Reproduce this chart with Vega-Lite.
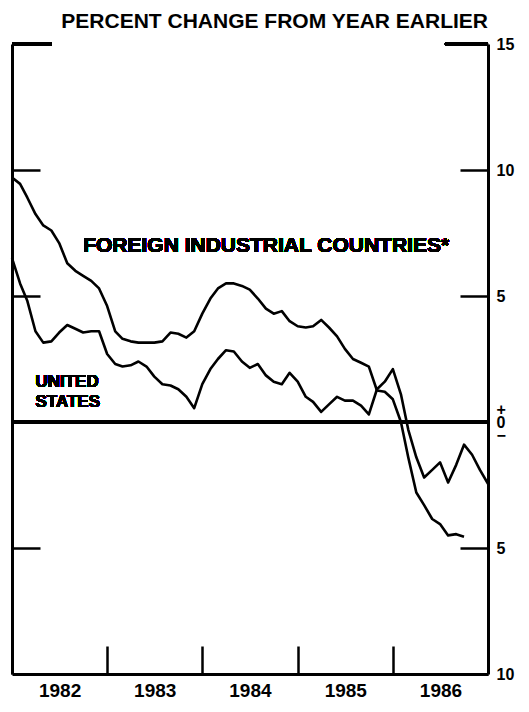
{
  "$schema": "https://vega.github.io/schema/vega-lite/v6.json",
  "width": 476,
  "height": 630,
  "autosize": {"type": "none"},
  "padding": {"left": 12, "top": 44, "right": 41, "bottom": 38},
  "background": "white",
  "config": {"view": {"stroke": null}, "font": "Liberation Sans"},
  "title": {"text": "PERCENT CHANGE FROM YEAR EARLIER", "anchor": "end", "frame": "group", "fontSize": 21, "fontWeight": 900, "font": "Liberation Sans", "color": "#000", "offset": 4},
  "data": {"values": [
    {"date": "1982-01-01", "series": "US", "value": 6.5},
    {"date": "1982-02-01", "series": "US", "value": 5.5},
    {"date": "1982-03-01", "series": "US", "value": 4.8},
    {"date": "1982-04-01", "series": "US", "value": 3.6},
    {"date": "1982-05-01", "series": "US", "value": 3.15},
    {"date": "1982-06-01", "series": "US", "value": 3.2},
    {"date": "1982-07-01", "series": "US", "value": 3.55},
    {"date": "1982-08-01", "series": "US", "value": 3.85},
    {"date": "1982-09-01", "series": "US", "value": 3.7},
    {"date": "1982-10-01", "series": "US", "value": 3.55},
    {"date": "1982-11-01", "series": "US", "value": 3.6},
    {"date": "1982-12-01", "series": "US", "value": 3.6},
    {"date": "1983-01-01", "series": "US", "value": 2.7},
    {"date": "1983-02-01", "series": "US", "value": 2.3},
    {"date": "1983-03-01", "series": "US", "value": 2.2},
    {"date": "1983-04-01", "series": "US", "value": 2.25},
    {"date": "1983-05-01", "series": "US", "value": 2.4},
    {"date": "1983-06-01", "series": "US", "value": 2.2},
    {"date": "1983-07-01", "series": "US", "value": 1.8},
    {"date": "1983-08-01", "series": "US", "value": 1.5},
    {"date": "1983-09-01", "series": "US", "value": 1.45},
    {"date": "1983-10-01", "series": "US", "value": 1.3},
    {"date": "1983-11-01", "series": "US", "value": 1.0},
    {"date": "1983-12-01", "series": "US", "value": 0.55},
    {"date": "1984-01-01", "series": "US", "value": 1.5},
    {"date": "1984-02-01", "series": "US", "value": 2.1},
    {"date": "1984-03-01", "series": "US", "value": 2.5},
    {"date": "1984-04-01", "series": "US", "value": 2.85},
    {"date": "1984-05-01", "series": "US", "value": 2.8},
    {"date": "1984-06-01", "series": "US", "value": 2.4},
    {"date": "1984-07-01", "series": "US", "value": 2.15},
    {"date": "1984-08-01", "series": "US", "value": 2.3},
    {"date": "1984-09-01", "series": "US", "value": 1.85},
    {"date": "1984-10-01", "series": "US", "value": 1.6},
    {"date": "1984-11-01", "series": "US", "value": 1.5},
    {"date": "1984-12-01", "series": "US", "value": 1.95},
    {"date": "1985-01-01", "series": "US", "value": 1.6},
    {"date": "1985-02-01", "series": "US", "value": 1.0},
    {"date": "1985-03-01", "series": "US", "value": 0.8},
    {"date": "1985-04-01", "series": "US", "value": 0.4},
    {"date": "1985-05-01", "series": "US", "value": 0.7},
    {"date": "1985-06-01", "series": "US", "value": 1.0},
    {"date": "1985-07-01", "series": "US", "value": 0.85},
    {"date": "1985-08-01", "series": "US", "value": 0.85},
    {"date": "1985-09-01", "series": "US", "value": 0.65},
    {"date": "1985-10-01", "series": "US", "value": 0.3},
    {"date": "1985-11-01", "series": "US", "value": 1.3},
    {"date": "1985-12-01", "series": "US", "value": 1.6},
    {"date": "1986-01-01", "series": "US", "value": 2.1},
    {"date": "1986-02-01", "series": "US", "value": 1.1},
    {"date": "1986-03-01", "series": "US", "value": -0.3},
    {"date": "1986-04-01", "series": "US", "value": -1.4},
    {"date": "1986-05-01", "series": "US", "value": -2.2},
    {"date": "1986-06-01", "series": "US", "value": -1.9},
    {"date": "1986-07-01", "series": "US", "value": -1.6},
    {"date": "1986-08-01", "series": "US", "value": -2.4},
    {"date": "1986-09-01", "series": "US", "value": -1.7},
    {"date": "1986-10-01", "series": "US", "value": -0.9},
    {"date": "1986-11-01", "series": "US", "value": -1.3},
    {"date": "1986-12-01", "series": "US", "value": -1.9},
    {"date": "1987-01-01", "series": "US", "value": -2.45},
    {"date": "1982-01-01", "series": "Foreign", "value": 9.7},
    {"date": "1982-02-01", "series": "Foreign", "value": 9.45},
    {"date": "1982-03-01", "series": "Foreign", "value": 8.9},
    {"date": "1982-04-01", "series": "Foreign", "value": 8.25},
    {"date": "1982-05-01", "series": "Foreign", "value": 7.8},
    {"date": "1982-06-01", "series": "Foreign", "value": 7.6},
    {"date": "1982-07-01", "series": "Foreign", "value": 7.1},
    {"date": "1982-08-01", "series": "Foreign", "value": 6.3},
    {"date": "1982-09-01", "series": "Foreign", "value": 6.0},
    {"date": "1982-10-01", "series": "Foreign", "value": 5.8},
    {"date": "1982-11-01", "series": "Foreign", "value": 5.6},
    {"date": "1982-12-01", "series": "Foreign", "value": 5.3},
    {"date": "1983-01-01", "series": "Foreign", "value": 4.6},
    {"date": "1983-02-01", "series": "Foreign", "value": 3.6},
    {"date": "1983-03-01", "series": "Foreign", "value": 3.3},
    {"date": "1983-04-01", "series": "Foreign", "value": 3.2},
    {"date": "1983-05-01", "series": "Foreign", "value": 3.15},
    {"date": "1983-06-01", "series": "Foreign", "value": 3.15},
    {"date": "1983-07-01", "series": "Foreign", "value": 3.15},
    {"date": "1983-08-01", "series": "Foreign", "value": 3.2},
    {"date": "1983-09-01", "series": "Foreign", "value": 3.55},
    {"date": "1983-10-01", "series": "Foreign", "value": 3.5},
    {"date": "1983-11-01", "series": "Foreign", "value": 3.35},
    {"date": "1983-12-01", "series": "Foreign", "value": 3.6},
    {"date": "1984-01-01", "series": "Foreign", "value": 4.3},
    {"date": "1984-02-01", "series": "Foreign", "value": 4.9},
    {"date": "1984-03-01", "series": "Foreign", "value": 5.3},
    {"date": "1984-04-01", "series": "Foreign", "value": 5.5},
    {"date": "1984-05-01", "series": "Foreign", "value": 5.5},
    {"date": "1984-06-01", "series": "Foreign", "value": 5.4},
    {"date": "1984-07-01", "series": "Foreign", "value": 5.25},
    {"date": "1984-08-01", "series": "Foreign", "value": 4.9},
    {"date": "1984-09-01", "series": "Foreign", "value": 4.5},
    {"date": "1984-10-01", "series": "Foreign", "value": 4.3},
    {"date": "1984-11-01", "series": "Foreign", "value": 4.4},
    {"date": "1984-12-01", "series": "Foreign", "value": 4.0},
    {"date": "1985-01-01", "series": "Foreign", "value": 3.8},
    {"date": "1985-02-01", "series": "Foreign", "value": 3.75},
    {"date": "1985-03-01", "series": "Foreign", "value": 3.8},
    {"date": "1985-04-01", "series": "Foreign", "value": 4.05},
    {"date": "1985-05-01", "series": "Foreign", "value": 3.75},
    {"date": "1985-06-01", "series": "Foreign", "value": 3.4},
    {"date": "1985-07-01", "series": "Foreign", "value": 2.9},
    {"date": "1985-08-01", "series": "Foreign", "value": 2.5},
    {"date": "1985-09-01", "series": "Foreign", "value": 2.35},
    {"date": "1985-10-01", "series": "Foreign", "value": 2.2},
    {"date": "1985-11-01", "series": "Foreign", "value": 1.25},
    {"date": "1985-12-01", "series": "Foreign", "value": 1.2},
    {"date": "1986-01-01", "series": "Foreign", "value": 0.9},
    {"date": "1986-02-01", "series": "Foreign", "value": 0.0},
    {"date": "1986-03-01", "series": "Foreign", "value": -1.4},
    {"date": "1986-04-01", "series": "Foreign", "value": -2.8},
    {"date": "1986-05-01", "series": "Foreign", "value": -3.3},
    {"date": "1986-06-01", "series": "Foreign", "value": -3.85},
    {"date": "1986-07-01", "series": "Foreign", "value": -4.05},
    {"date": "1986-08-01", "series": "Foreign", "value": -4.5},
    {"date": "1986-09-01", "series": "Foreign", "value": -4.45},
    {"date": "1986-10-01", "series": "Foreign", "value": -4.55}
  ]},
  "layer": [
    {
      "mark": {"type": "line", "color": "#000", "strokeWidth": 2.6, "strokeJoin": "round"},
      "encoding": {
        "x": {"field": "date", "type": "temporal", "title": null,
          "scale": {"type": "utc", "domain": [{"year": 1982, "month": 1, "date": 1, "utc": true}, {"year": 1987, "month": 1, "date": 1, "utc": true}]},
          "axis": {"orient": "bottom", "title": null, "grid": false,
            "values": [{"year": 1982, "month": 1, "date": 1, "utc": true}, {"year": 1983, "month": 1, "date": 1, "utc": true}, {"year": 1984, "month": 1, "date": 1, "utc": true}, {"year": 1985, "month": 1, "date": 1, "utc": true}, {"year": 1986, "month": 1, "date": 1, "utc": true}],
            "format": "%Y", "formatType": "utc",
            "labelOffset": 47.6, "labelFlush": false, "labelOverlap": false, "labelBound": false,
            "tickSize": -28, "tickWidth": 2.5, "tickColor": "#000",
            "domainColor": "#000", "domainWidth": 3,
            "labelFont": "Liberation Sans", "labelFontSize": 19, "labelFontWeight": "bold", "labelColor": "#000", "labelPadding": 35}},
        "y": {"field": "value", "type": "quantitative",
          "scale": {"domain": [-10, 15], "nice": false, "zero": false},
          "axis": {"orient": "left", "title": null, "grid": false, "labels": false,
            "values": [15, 10, 5, -5],
            "tickSize": -28, "tickWidth": 2.5, "tickColor": "#000",
            "domainColor": "#000", "domainWidth": 3}},
        "detail": {"field": "series", "type": "nominal"}
      }
    },
    {
      "mark": {"type": "rule", "color": "#000", "strokeWidth": 2.5},
      "encoding": {
        "y": {"datum": 0, "type": "quantitative",
          "axis": {"orient": "right", "title": null, "grid": false,
            "values": [15, 10, 5, 0, -5, -10],
            "labelExpr": "datum.value == 0 ? ['+', '0', '\u2212'] : format(abs(datum.value), 'd')",
            "labelLineHeight": 13,
            "labelOffset": {"condition": {"test": "datum.value == 0", "value": -13}, "value": 0},
            "tickSize": -28, "tickWidth": 2.5, "tickColor": "#000",
            "domainColor": "#000", "domainWidth": 3,
            "labelFont": "Liberation Sans", "labelFontSize": 16, "labelFontWeight": "bold", "labelColor": "#000",
            "labelPadding": 36, "labelFlush": false, "labelOverlap": false, "labelBound": false}}
      }
    },
    {
      "mark": {"type": "rule", "color": "#000", "strokeWidth": 3},
      "encoding": {
        "x": {"datum": {"year": 1982, "month": 1, "date": 1, "utc": true}, "type": "temporal"},
        "x2": {"datum": {"year": 1982, "month": 6, "date": 1, "utc": true}},
        "y": {"datum": 15, "type": "quantitative", "axis": null}
      }
    },
    {
      "mark": {"type": "rule", "color": "#000", "strokeWidth": 3},
      "encoding": {
        "x": {"datum": {"year": 1986, "month": 7, "date": 20, "utc": true}, "type": "temporal"},
        "x2": {"datum": {"year": 1987, "month": 1, "date": 1, "utc": true}},
        "y": {"datum": 15, "type": "quantitative", "axis": null}
      }
    },
    {
      "mark": {"type": "text", "text": "FOREIGN INDUSTRIAL COUNTRIES*", "align": "left", "baseline": "middle", "font": "Liberation Sans", "fontSize": 21, "fontWeight": "bold", "color": "#000"},
      "encoding": {
        "x": {"datum": {"year": 1982, "month": 10, "date": 1, "utc": true}, "type": "temporal"},
        "y": {"datum": 7.0, "type": "quantitative", "axis": null}
      }
    },
    {
      "mark": {"type": "text", "text": ["UNITED", "STATES"], "align": "left", "baseline": "middle", "lineHeight": 20, "font": "Liberation Sans", "fontSize": 17, "fontWeight": "bold", "color": "#000"},
      "encoding": {
        "x": {"datum": {"year": 1982, "month": 4, "date": 1, "utc": true}, "type": "temporal"},
        "y": {"datum": 1.6, "type": "quantitative", "axis": null}
      }
    }
  ],
  "resolve": {"scale": {"y": "shared", "x": "shared"}, "axis": {"y": "independent"}}
}
